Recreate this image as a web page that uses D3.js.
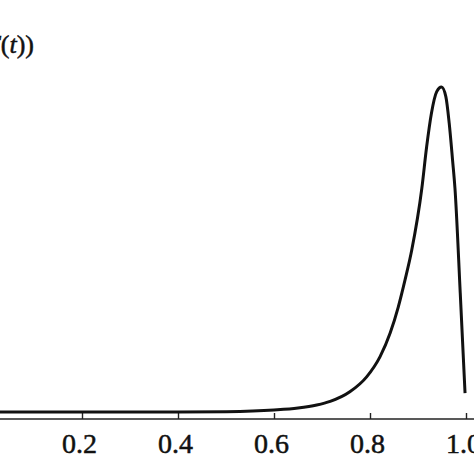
<!DOCTYPE html>
<html>
<head>
<meta charset="utf-8">
<script src="https://cdn.jsdelivr.net/npm/d3@7"></script>
<style>
html,body{margin:0;padding:0;background:#fff;}
svg{display:block;}
</style>
</head>
<body>
<svg id="chart" width="474" height="474"></svg>
<script>
// data
const tValues = [0, 0.1, 0.2, 0.3, 0.4, 0.5, 0.6, 0.65, 0.689, 0.717, 0.758, 0.793, 0.821, 0.842, 0.859, 0.873, 0.887, 0.908, 0.918, 0.928, 0.939, 0.949, 0.958, 0.965, 0.972, 0.977, 0.988, 0.998];
const fValues = [0.021, 0.021, 0.021, 0.021, 0.021, 0.022, 0.027, 0.033, 0.042, 0.053, 0.082, 0.127, 0.188, 0.259, 0.338, 0.419, 0.509, 0.695, 0.820, 0.921, 0.986, 1.0, 0.971, 0.891, 0.780, 0.695, 0.380, 0.078];
const xTicks = [0.2, 0.4, 0.6, 0.8, 1.0];
const xTickLabels = ["0.2", "0.4", "0.6", "0.8", "1.0"];

const svg = d3.select("#chart");
const x = d3.scaleLinear().domain([0, 1]).range([-14, 466]);
const y = d3.scaleLinear().domain([0, 1]).range([419, 87]);

// x axis
const axis = d3.axisBottom(x)
  .tickValues(xTicks)
  .tickSize(-6)
  .tickSizeOuter(0)
  .tickFormat((d, i) => xTickLabels[i]);

const g = svg.append("g").attr("transform", `translate(0,${y(0)})`).call(axis);
g.select(".domain").attr("stroke", "#222").attr("stroke-width", 1.5)
  .attr("d", `M-20,0H480`);
g.selectAll(".tick line").attr("stroke", "#222").attr("stroke-width", 1.4);
g.selectAll(".tick text")
  .attr("font-family", "'Liberation Serif', 'Times New Roman', serif")
  .attr("font-size", 28)
  .attr("fill", "#111")
  .attr("stroke", "#111")
  .attr("stroke-width", 0.5)
  .attr("dy", "0")
  .attr("dx", -3)
  .attr("y", 34);

// curve
const data = tValues.map((t, i) => ({t, v: fValues[i]}));
const line = d3.line().x(d => x(d.t)).y(d => y(d.v)).curve(d3.curveMonotoneX);
svg.append("path").datum(data)
  .attr("d", line)
  .attr("fill", "none")
  .attr("stroke", "#111")
  .attr("stroke-width", 3)
  .attr("stroke-linejoin", "round");

// y axis label (partially cut off at the left edge, as in the reference)
const lab = svg.append("text")
  .attr("x", 34).attr("y", 53)
  .attr("text-anchor", "end")
  .attr("font-family", "'Liberation Serif', 'Times New Roman', serif")
  .attr("font-size", 26)
  .attr("fill", "#111")
  .attr("stroke", "#111")
  .attr("stroke-width", 0.5);
lab.append("tspan").attr("font-style", "italic").text("f");
lab.append("tspan").text("(");
lab.append("tspan").attr("font-style", "italic").text("F");
lab.append("tspan").text("(");
lab.append("tspan").attr("font-style", "italic").text("t");
lab.append("tspan").text("))");
</script>
</body>
</html>
